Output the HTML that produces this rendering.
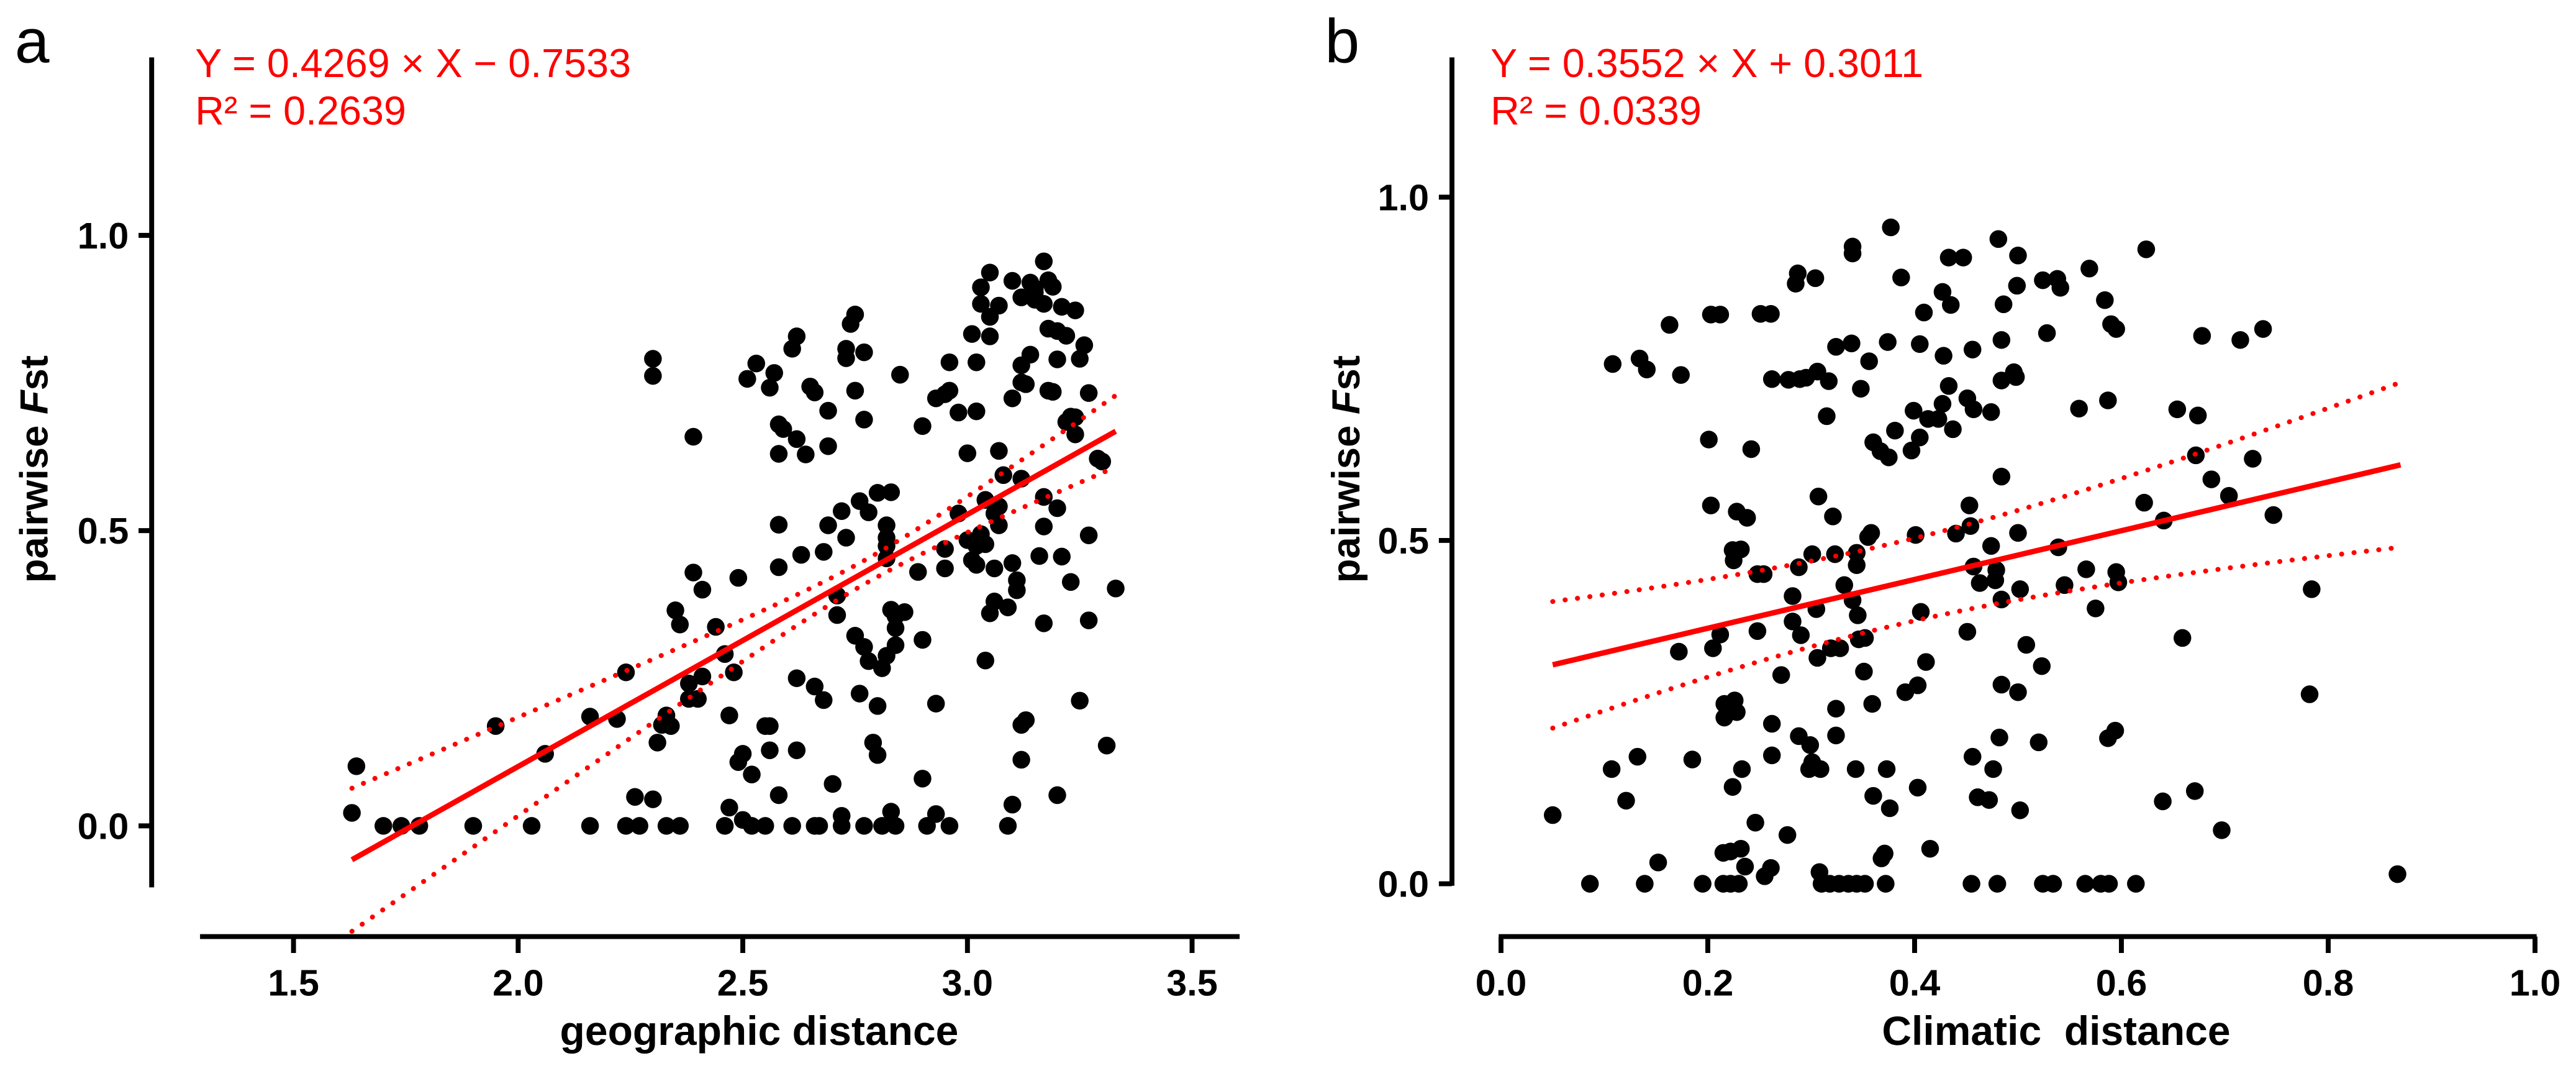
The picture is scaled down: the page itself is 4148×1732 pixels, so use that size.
<!DOCTYPE html>
<html><head><meta charset="utf-8"><style>
html,body{margin:0;padding:0;background:#fff;}
svg{display:block;}
text{font-family:"Liberation Sans",Arial,sans-serif;}
</style></head><body>
<svg id="fig" width="4148" height="1732" viewBox="0 0 1571 656" preserveAspectRatio="none" xmlns="http://www.w3.org/2000/svg">
<rect width="1571" height="656" fill="#fff"/>
<g id="pa"></g>
<g id="pb"></g>
</svg>
<script>
// Panel a data
const aX = [1.70,1.74,1.78,1.90,2.03,2.16,2.24,2.27,2.33,2.36,2.46,2.52,2.55,2.61,2.66,2.67,2.72,2.77,2.81,2.84,2.91,2.96,3.09,
1.63,2.50,2.72,2.83,2.93,3.10,
1.64,1.95,2.06,2.16,2.22,2.24,2.26,2.30,2.31,2.33,2.34,2.32,2.30,2.30,2.39,2.35,2.36,2.39,2.41,2.38,2.38,2.40,2.41,2.44,2.46,2.48,2.47,2.47,2.49,2.49,2.50,2.52,2.51,2.53,2.55,2.56,2.56,2.58,2.58,2.58,2.56,2.57,2.58,2.58,2.59,2.61,2.62,2.62,2.64,2.62,2.62,2.63,2.65,2.66,2.66,2.68,2.68,2.69,2.69,2.69,2.70,2.71,2.71,2.72,2.73,2.73,2.73,2.74,2.75,2.75,2.75,2.76,2.77,2.77,2.77,2.78,2.76,2.78,2.79,2.80,2.80,2.81,2.80,2.83,2.82,2.82,2.82,2.82,2.82,2.83,2.84,2.84,2.84,2.86,2.85,2.89,2.90,2.90,2.90,2.93,2.93,2.95,2.96,2.96,2.95,2.95,2.98,2.98,3.00,3.00,3.01,3.01,3.02,3.02,3.02,3.02,3.03,3.03,3.03,3.04,3.04,3.05,3.05,3.05,3.05,3.04,3.06,3.06,3.07,3.07,3.06,3.07,3.07,3.08,3.09,3.10,3.10,3.10,3.11,3.11,3.12,3.12,3.12,3.13,3.12,3.12,3.12,3.13,3.14,3.14,3.15,3.15,3.15,3.16,3.17,3.17,3.17,3.17,3.17,3.18,3.18,3.19,3.18,3.19,3.20,3.20,3.20,3.20,3.21,3.21,3.22,3.22,3.23,3.23,3.24,3.24,3.24,3.25,3.25,3.26,3.27,3.27,3.27,3.29,3.30,3.31,3.33];
const aY = [0,0,0,0,0,0,0,0,0,0,0,0,0,0,0,0,0,0,0,0,0,0,0,
0.022,0.010,0.017,0.024,0.020,0.036,
0.101,0.169,0.122,0.185,0.181,0.260,0.049,0.045,0.141,0.187,0.169,0.171,0.791,0.762,0.659,0.365,0.341,0.429,0.400,0.241,0.215,0.215,0.253,0.337,0.291,0.260,0.187,0.031,0.420,0.108,0.122,0.087,0.757,0.783,0.169,0.169,0.128,0.052,0.438,0.510,0.742,0.767,0.630,0.680,0.672,0.808,0.829,0.655,0.629,0.128,0.250,0.459,0.744,0.734,0.236,0.464,0.213,0.509,0.703,0.643,0.071,0.390,0.357,0.533,0.808,0.792,0.488,0.850,0.866,0.737,0.322,0.224,0.303,0.802,0.688,0.531,0.550,0.279,0.141,0.120,0.203,0.267,0.564,0.565,0.509,0.488,0.474,0.453,0.288,0.366,0.355,0.335,0.306,0.362,0.764,0.430,0.315,0.677,0.080,0.207,0.724,0.731,0.737,0.785,0.469,0.436,0.529,0.700,0.631,0.484,0.833,0.450,0.442,0.474,0.785,0.702,0.912,0.884,0.494,0.477,0.552,0.862,0.829,0.937,0.360,0.280,0.436,0.529,0.509,0.635,0.380,0.881,0.541,0.594,0.370,0.923,0.445,0.724,0.416,0.399,0.588,0.112,0.171,0.179,0.780,0.751,0.895,0.748,0.798,0.920,0.903,0.891,0.910,0.457,0.956,0.507,0.557,0.343,0.884,0.924,0.737,0.735,0.842,0.913,0.838,0.790,0.538,0.052,0.879,0.456,0.684,0.830,0.413,0.693,0.692,0.663,0.873,0.212,0.791,0.814,0.492,0.733,0.348,0.622,0.617,0.136,0.402];
const aFit = [0.4269, -0.7533];
const aFitRange = [1.63, 3.33];
const aCI = [0.0004, 0.0108, 2.78];
const aXTicks = [1.5, 2.0, 2.5, 3.0, 3.5];
const aYTicks = [0.0, 0.5, 1.0];

// Panel b data
const bX = [0.086,0.139,0.195,0.215,0.222,0.230,0.310,0.318,0.327,0.336,0.344,0.352,0.372,0.455,0.480,0.524,0.534,0.565,0.580,0.588,0.614,
0.050,0.867,0.108,0.134,0.141,0.163,0.174,0.203,0.212,0.251,0.261,0.285,0.287,0.304,0.340,0.340,0.377,0.387,0.433,0.447,0.481,0.500,0.524,0.538,0.541,0.569,0.584,0.624,0.590,0.595,0.678,0.715,0.737,
0.201,0.242,0.262,0.278,0.289,0.295,0.306,0.317,0.324,0.339,0.356,0.348,0.315,0.374,0.405,0.409,0.427,0.435,0.428,0.456,0.484,0.486,0.499,0.528,0.484,0.496,0.498,0.433,0.451,0.457,0.474,0.427,0.413,0.423,0.437,0.399,0.405,0.397,0.381,0.360,0.367,0.375,0.559,0.587,0.654,0.674,0.672,0.727,0.484,0.687,0.704,0.622,0.641,0.747,
0.203,0.228,0.238,0.307,0.321,0.453,0.454,0.401,0.440,0.500,0.358,0.355,0.224,0.232,0.225,0.248,0.254,0.301,0.323,0.344,0.344,0.288,0.332,0.282,0.340,0.305,0.345,0.282,0.290,0.212,0.248,0.172,0.205,0.346,0.352,0.319,0.328,0.306,0.351,0.271,0.406,0.457,0.463,0.479,0.478,0.474,0.484,0.502,0.539,0.545,0.566,0.575,0.595,0.597,0.784,0.451,0.508,0.523,0.659,0.411,0.391,0.403,0.484,0.500,0.782,0.359,0.324,0.216,0.226,0.216,0.228,0.262,0.288,0.299,0.324,0.262,0.301,0.298,0.309,0.343,0.373,0.233,0.224,0.185,0.132,0.107,0.121,0.360,0.376,0.403,0.456,0.476,0.482,0.520,0.587,0.594,0.461,0.472,0.502,0.640,0.671,0.697,0.152,0.246,0.277,0.215,0.222,0.232,0.236,0.261,0.255,0.308,0.368,0.371,0.415];
const bY = [0,0,0,0,0,0,0,0,0,0,0,0,0,0,0,0,0,0,0,0,0,
0.100,0.014,0.757,0.765,0.749,0.814,0.741,0.829,0.829,0.830,0.830,0.874,0.889,0.882,0.928,0.918,0.956,0.883,0.912,0.912,0.939,0.915,0.879,0.881,0.868,0.896,0.850,0.924,0.815,0.808,0.798,0.792,0.808,
0.647,0.633,0.735,0.734,0.735,0.737,0.746,0.732,0.782,0.787,0.761,0.721,0.681,0.789,0.786,0.832,0.862,0.843,0.769,0.778,0.792,0.844,0.871,0.802,0.733,0.745,0.738,0.725,0.707,0.691,0.687,0.699,0.677,0.677,0.662,0.689,0.650,0.631,0.660,0.643,0.630,0.621,0.692,0.704,0.691,0.682,0.624,0.619,0.593,0.589,0.565,0.555,0.529,0.537,
0.551,0.542,0.533,0.564,0.535,0.551,0.521,0.508,0.510,0.511,0.511,0.505,0.486,0.487,0.471,0.451,0.451,0.480,0.480,0.482,0.464,0.461,0.435,0.419,0.413,0.400,0.391,0.382,0.362,0.363,0.368,0.338,0.343,0.356,0.358,0.343,0.343,0.329,0.309,0.304,0.396,0.462,0.438,0.457,0.442,0.492,0.414,0.429,0.490,0.435,0.458,0.401,0.454,0.439,0.429,0.367,0.348,0.317,0.358,0.323,0.279,0.289,0.290,0.279,0.276,0.262,0.255,0.262,0.267,0.242,0.250,0.233,0.215,0.202,0.216,0.187,0.177,0.167,0.167,0.167,0.167,0.167,0.141,0.181,0.185,0.167,0.121,0.128,0.110,0.140,0.185,0.167,0.213,0.206,0.212,0.223,0.126,0.122,0.107,0.120,0.135,0.078,0.031,0.089,0.071,0.045,0.047,0.051,0.025,0.023,0.011,0.017,0.037,0.044,0.051];
const bFit = [0.3552, 0.3011];
const bFitRange = [0.05, 0.87];
const bCI = [0.0036, 0.045, 0.38];
const bXTicks = [0.0, 0.2, 0.4, 0.6, 0.8, 1.0];
const bYTicks = [0.0, 0.5, 1.0];

const NS = 'http://www.w3.org/2000/svg';
function mk(parent, tag, attrs, txt) {
  const e = document.createElementNS(NS, tag);
  for (const k in attrs) e.setAttribute(k, attrs[k]);
  if (txt !== undefined) e.textContent = txt;
  parent.appendChild(e);
  return e;
}

function panel(g, cfg) {
  const sx = v => cfg.x0 + (v - cfg.xv0) * cfg.xs;
  const sy = v => cfg.y0 - v * cfg.ys;
  let e = mk(g, 'line', {x1: cfg.yAxisX, y1: cfg.yTop, x2: cfg.yAxisX, y2: cfg.yBot, stroke: '#000', 'stroke-width': 3});
  
  
  cfg.yTicks.forEach(v => {
    const t = mk(g, 'line', {x1: cfg.yAxisX - 8, y1: sy(v), x2: cfg.yAxisX, y2: sy(v), stroke: '#000', 'stroke-width': 3});
    
    
    const l = mk(g, 'text', {x: cfg.yAxisX - 14, y: sy(v) + 8, 'text-anchor': 'end', 'font-size': 22.5, 'font-weight': 'bold'}, v.toFixed(1));
    
    
  });
  e = mk(g, 'line', {x1: cfg.xAxisL, y1: 571, x2: cfg.xAxisR, y2: 571, stroke: '#000', 'stroke-width': 3});
  
  
  cfg.xTicks.forEach(v => {
    const t = mk(g, 'line', {x1: sx(v), y1: 571, x2: sx(v), y2: 581, stroke: '#000', 'stroke-width': 3});
    
    
    const l = mk(g, 'text', {x: sx(v), y: 607, 'text-anchor': 'middle', 'font-size': 22.5, 'font-weight': 'bold'}, v.toFixed(1));
    
    
  });
  cfg.xs_.forEach((xv, i) => {
    const c = mk(g, 'circle', {cx: sx(xv), cy: sy(cfg.ys_[i]), r: 5.4, fill: '#000'});
    
    
  });
  const f = x => cfg.fit[0] * x + cfg.fit[1];
  const hw = x => Math.sqrt(cfg.ci[0] + cfg.ci[1] * (x - cfg.ci[2]) * (x - cfg.ci[2]));
  const N = 60, r0 = cfg.range[0], r1 = cfg.range[1];
  let up = '', lo = '';
  for (let i = 0; i <= N; i++) {
    const x = r0 + (r1 - r0) * i / N;
    up += (i ? 'L' : 'M') + sx(x).toFixed(2) + ',' + sy(f(x) + hw(x)).toFixed(2);
    lo += (i ? 'L' : 'M') + sx(x).toFixed(2) + ',' + sy(f(x) - hw(x)).toFixed(2);
  }
  e = mk(g, 'path', {d: up, fill: 'none', stroke: '#f00', 'stroke-width': 3, 'stroke-dasharray': '0.1 7.5', 'stroke-linecap': 'round'});
  
  
  e = mk(g, 'path', {d: lo, fill: 'none', stroke: '#f00', 'stroke-width': 3, 'stroke-dasharray': '0.1 7.5', 'stroke-linecap': 'round'});
  
  
  e = mk(g, 'line', {x1: sx(r0), y1: sy(f(r0)), x2: sx(r1), y2: sy(f(r1)), stroke: '#f00', 'stroke-width': 3.3});
  
  
  e = mk(g, 'text', {x: cfg.eqX, y: 47, 'font-size': 24.5, fill: '#f00'}, cfg.eq);
  
  
  e = mk(g, 'text', {x: cfg.eqX, y: 76, 'font-size': 24.5, fill: '#f00'}, cfg.r2);
  
  
  e = mk(g, 'text', {x: cfg.letterX, y: 38, 'font-size': 38}, cfg.letter);
  
  
  e = mk(g, 'text', {x: cfg.xlabX, y: 637, 'text-anchor': 'middle', 'font-size': 25, 'font-weight': 'bold'}, cfg.xlab);
  e.setAttribute('xml:space', 'preserve');
  e.style.whiteSpace = 'pre';
  
  
  const yt = mk(g, 'text', {x: 0, y: 0, 'text-anchor': 'middle', 'font-size': 24, 'font-weight': 'bold', transform: 'translate(' + cfg.ylabX + ',286) rotate(-90)'});
  
  
  mk(yt, 'tspan', {}, 'pairwise ');
  mk(yt, 'tspan', {'font-style': 'italic'}, 'F');
  mk(yt, 'tspan', {}, 'st');
}

panel(document.getElementById('pa'), {
  x0: 179, xv0: 1.5, xs: 274, y0: 503.5, ys: 360,
  yAxisX: 92.5, yTop: 35, yBot: 541, xAxisL: 122, xAxisR: 756,
  xTicks: aXTicks, yTicks: aYTicks, xs_: aX, ys_: aY,
  fit: aFit, range: aFitRange, ci: aCI,
  eq: 'Y = 0.4269 \u00d7 X \u2212 0.7533', r2: 'R\u00b2 = 0.2639', eqX: 119,
  letter: 'a', letterX: 9, xlab: 'geographic distance', xlabX: 463, ylabX: 29
});
panel(document.getElementById('pb'), {
  x0: 915.4, xv0: 0, xs: 630.6, y0: 538.8, ys: 418.6,
  yAxisX: 885.5, yTop: 35, yBot: 540, xAxisL: 914, xAxisR: 1547,
  xTicks: bXTicks, yTicks: bYTicks, xs_: bX, ys_: bY,
  fit: bFit, range: bFitRange, ci: bCI,
  eq: 'Y = 0.3552 \u00d7 X + 0.3011', r2: 'R\u00b2 = 0.0339', eqX: 909,
  letter: 'b', letterX: 808, xlab: 'Climatic  distance', xlabX: 1254, ylabX: 829
});
</script>
</body></html>
